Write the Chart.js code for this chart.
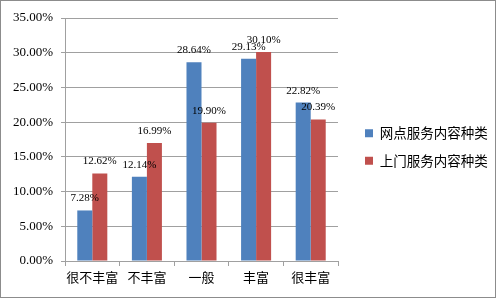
<!DOCTYPE html>
<html>
<head>
<meta charset="utf-8">
<script src="https://cdn.jsdelivr.net/npm/chart.js@4.4.0/dist/chart.umd.min.js"></script>
<style>
  html, body { margin: 0; padding: 0; background: #fff; }
  #box { width: 496px; height: 298px; box-sizing: border-box; border: 1px solid #8c8c8c; }
</style>
</head>
<body>
<div id="box"><canvas id="chart" width="494" height="296"></canvas></div>
<script>
// data
const categories = ["很不丰富", "不丰富", "一般", "丰富", "很丰富"];
const seriesNames = ["网点服务内容种类", "上门服务内容种类"];
const wangdian = [7.28, 12.14, 28.64, 29.13, 22.82];
const shangmen = [12.62, 16.99, 19.90, 30.10, 20.39];
const yTicks = [0, 5, 10, 15, 20, 25, 30, 35];

const serif = "'Liberation Serif', 'Times New Roman', serif";
const cjk = "'Noto Sans CJK SC', 'Liberation Serif', serif";

// value labels above the bars
const barLabels = {
	id: 'barLabels',
	afterDatasetsDraw(chart){
		const ctx = chart.ctx;
		ctx.save();
		ctx.font = "11px " + serif;
		ctx.fillStyle = "#000";
		ctx.textAlign = "center";
		ctx.textBaseline = "alphabetic";
		chart.data.datasets.forEach((ds, i) => {
			chart.getDatasetMeta(i).data.forEach((bar, j) => {
				ctx.fillText(ds.data[j].toFixed(2) + "%", bar.x, bar.y - 9);
			});
		});
		ctx.restore();
	}
};

// fixed legend column on the right, a bit away from the plot
const LEGEND_W = 157, LEGEND_GAP = 13;
const legendGap = {
	id: 'legendGap',
	beforeLayout(chart){
		const lg = chart.legend;
		if(lg && !lg._gapPatched){
			const fit = lg.fit.bind(lg);
			lg.fit = function(){ fit(); this.width = LEGEND_W; };
			lg._gapPatched = true;
		}
	},
	afterLayout(chart){
		const lg = chart.legend;
		if(!lg) return;
		lg.left += LEGEND_GAP;
		lg.top = 0;
		lg.bottom = chart.height - 4;
	}
};

new Chart(document.getElementById("chart"), {
	type: 'bar',
	data: {
		labels: categories,
		datasets: [
			{label: seriesNames[0], data: wangdian, backgroundColor: "#4F81BD", categoryPercentage: 0.55, barPercentage: 1},
			{label: seriesNames[1], data: shangmen, backgroundColor: "#C0504D", categoryPercentage: 0.55, barPercentage: 1}
		]
	},
	options: {
		responsive: false,
		animation: false,
		layout: {padding: {top: 17, right: 0, bottom: 0, left: 0}},
		plugins: {
			legend: {
				position: 'right',
				align: 'center',
				labels: {
					boxWidth: 8, boxHeight: 8, padding: 14,
					color: "#000",
					font: {family: cjk, size: 13.5}
				}
			},
			tooltip: {enabled: false}
		},
		scales: {
			x: {
				grid: {offset: true, drawOnChartArea: false, tickLength: 5, color: "#a0a0a0"},
				border: {color: "#a0a0a0"},
				ticks: {color: "#000", font: {family: cjk, size: 13}, padding: 3, maxRotation: 0, autoSkip: false},
				afterFit(scale){ scale.height = 36; }
			},
			y: {
				min: 0, max: 35,
				afterBuildTicks(scale){ scale.ticks = yTicks.map(v => ({value: v})); },
				grid: {color: "#a0a0a0", tickLength: 4},
				border: {color: "#a0a0a0"},
				ticks: {
					color: "#000", font: {family: serif, size: 13}, padding: 8,
					callback: v => v.toFixed(2) + "%"
				},
				afterFit(scale){ scale.width = 64; }
			}
		}
	},
	plugins: [barLabels, legendGap]
});
</script>
</body>
</html>
